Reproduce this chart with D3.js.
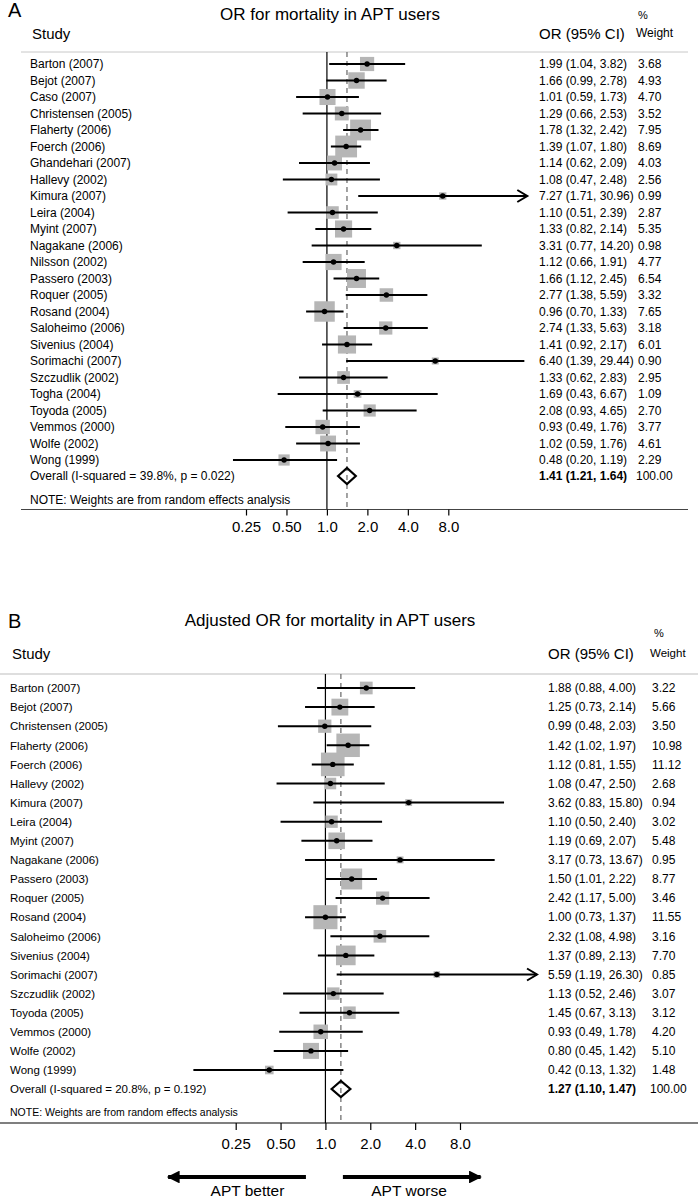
<!DOCTYPE html>
<html><head><meta charset="utf-8">
<script src="https://cdn.jsdelivr.net/npm/d3@7"></script>
<style>
html,body{margin:0;padding:0;background:#fff;}
text{font-family:"Liberation Sans",Arial,sans-serif;fill:#000;}
</style></head>
<body>
<svg id="chart" width="698" height="1200"></svg>
<script>
// ---------- Panel A data ----------
const studiesA = ["Barton (2007)","Bejot (2007)","Caso (2007)","Christensen (2005)","Flaherty (2006)","Foerch (2006)","Ghandehari (2007)","Hallevy (2002)","Kimura (2007)","Leira (2004)","Myint (2007)","Nagakane (2006)","Nilsson (2002)","Passero (2003)","Roquer (2005)","Rosand (2004)","Saloheimo (2006)","Sivenius (2004)","Sorimachi (2007)","Szczudlik (2002)","Togha (2004)","Toyoda (2005)","Vemmos (2000)","Wolfe (2002)","Wong (1999)"];
const orA     = [1.99,1.66,1.01,1.29,1.78,1.39,1.14,1.08,7.27,1.10,1.33,3.31,1.12,1.66,2.77,0.96,2.74,1.41,6.40,1.33,1.69,2.08,0.93,1.02,0.48];
const lowA    = [1.04,0.99,0.59,0.66,1.32,1.07,0.62,0.47,1.71,0.51,0.82,0.77,0.66,1.12,1.38,0.70,1.33,0.92,1.39,0.62,0.43,0.93,0.49,0.59,0.20];
const highA   = [3.82,2.78,1.73,2.53,2.42,1.80,2.09,2.48,30.96,2.39,2.14,14.20,1.91,2.45,5.59,1.33,5.63,2.17,29.44,2.83,6.67,4.65,1.76,1.76,1.19];
const weightA = [3.68,4.93,4.70,3.52,7.95,8.69,4.03,2.56,0.99,2.87,5.35,0.98,4.77,6.54,3.32,7.65,3.18,6.01,0.90,2.95,1.09,2.70,3.77,4.61,2.29];
const overallA = [1.41,1.21,1.64];
const overallLabelA = "Overall  (I-squared = 39.8%, p = 0.022)";
const arrowStudiesA = ["Kimura (2007)"];

// ---------- Panel B data ----------
const studiesB = ["Barton (2007)","Bejot (2007)","Christensen (2005)","Flaherty (2006)","Foerch (2006)","Hallevy (2002)","Kimura (2007)","Leira (2004)","Myint (2007)","Nagakane (2006)","Passero (2003)","Roquer (2005)","Rosand (2004)","Saloheimo (2006)","Sivenius (2004)","Sorimachi (2007)","Szczudlik (2002)","Toyoda (2005)","Vemmos (2000)","Wolfe (2002)","Wong (1999)"];
const orB     = [1.88,1.25,0.99,1.42,1.12,1.08,3.62,1.10,1.19,3.17,1.50,2.42,1.00,2.32,1.37,5.59,1.13,1.45,0.93,0.80,0.42];
const lowB    = [0.88,0.73,0.48,1.02,0.81,0.47,0.83,0.50,0.69,0.73,1.01,1.17,0.73,1.08,0.89,1.19,0.52,0.67,0.49,0.45,0.13];
const highB   = [4.00,2.14,2.03,1.97,1.55,2.50,15.80,2.40,2.07,13.67,2.22,5.00,1.37,4.98,2.13,26.30,2.46,3.13,1.78,1.42,1.32];
const weightB = [3.22,5.66,3.50,10.98,11.12,2.68,0.94,3.02,5.48,0.95,8.77,3.46,11.55,3.16,7.70,0.85,3.07,3.12,4.20,5.10,1.48];
const overallB = [1.27,1.10,1.47];
const overallLabelB = "Overall  (I-squared = 20.8%, p = 0.192)";
const arrowStudiesB = ["Sorimachi (2007)"];

// ---------- axis ticks ----------
const tickValues = [0.25,0.5,1,2,4,8];
const tickLabels = ["0.25","0.50","1.0","2.0","4.0","8.0"];
const noteText = "NOTE: Weights are from random effects analysis";

// ---------- direction arrows (panel B scale, OR units) ----------
const arrowLabels = ["APT better","APT worse"];
const arrowStart  = [0.74, 1.31];
const arrowTip    = [0.088, 11.0];
const arrowLabelAt = [0.30, 3.64];

const svg = d3.select("#chart");
const f2 = d3.format(".2f");
const FONT = '"Liberation Sans",Arial,sans-serif';

function panel(cfg){
  const g = svg.append("g");
  const n = cfg.studies.length;
  const x = d3.scaleLog().domain([0.25,8]).range(cfg.xRange);
  const y = d3.scaleLinear().domain([0,n-1]).range(cfg.yRows);
  const size = d3.scaleSqrt().domain([0,10]).range([0,cfg.boxAt10]);

  g.append("text").attr("x",cfg.letterX).attr("y",cfg.letterY).attr("font-size",20).text(cfg.letter);
  g.append("text").attr("x",330).attr("y",cfg.titleY).attr("text-anchor","middle").attr("font-size",17).text(cfg.title);
  g.append("text").attr("x",cfg.studyX+2).attr("y",cfg.headY).attr("font-size",15).text("Study");
  g.append("text").attr("x",cfg.ciX).attr("y",cfg.headY).attr("font-size",15).text("OR (95% CI)");
  g.append("text").attr("x",cfg.pctX).attr("y",cfg.pctY).attr("font-size",11).attr("fill","#333").text("%");
  g.append("text").attr("x",cfg.wX - 2).attr("y",cfg.weightY).attr("font-size",cfg.weightHeadSize).attr("fill","#333").text("Weight");

  g.append("line").attr("x1",cfg.sepX[0]).attr("x2",cfg.sepX[1]).attr("y1",cfg.sepY).attr("y2",cfg.sepY)
    .attr("stroke",cfg.sepColor).attr("stroke-width",cfg.sepW);

  g.append("line").attr("x1",x(1)).attr("x2",x(1)).attr("y1",cfg.sepY).attr("y2",cfg.axisY)
    .attr("stroke","#000").attr("stroke-width",1.2);
  g.append("line").attr("x1",x(cfg.overall[0])).attr("x2",x(cfg.overall[0])).attr("y1",cfg.sepY).attr("y2",cfg.axisY)
    .attr("stroke","#666").attr("stroke-width",1.2).attr("stroke-dasharray","5,4");

  const idx = d3.range(n);
  g.selectAll("rect.box").data(idx).enter().append("rect")
    .attr("x",i=>x(cfg.or[i]) - size(cfg.weight[i])/2)
    .attr("y",i=>y(i) - size(cfg.weight[i])/2)
    .attr("width",i=>size(cfg.weight[i]))
    .attr("height",i=>size(cfg.weight[i]))
    .attr("fill","#b6b6b6");
  g.selectAll("line.ci").data(idx).enter().append("line")
    .attr("x1",i=>x(cfg.low[i])).attr("x2",i=>x(cfg.high[i]))
    .attr("y1",i=>y(i)).attr("y2",i=>y(i))
    .attr("stroke","#000").attr("stroke-width",2);
  g.selectAll("path.arr").data(idx.filter(i=>cfg.arrows.includes(cfg.studies[i]))).enter().append("path")
    .attr("d",i=>{const xe=x(cfg.high[i]), yy=y(i); return `M${xe-10},${yy-6}L${xe},${yy}L${xe-10},${yy+6}`;})
    .attr("fill","none").attr("stroke","#000").attr("stroke-width",2);
  g.selectAll("circle.dot").data(idx).enter().append("circle")
    .attr("cx",i=>x(cfg.or[i])).attr("cy",i=>y(i)).attr("r",2.7).attr("fill","#000");

  g.selectAll("text.st").data(idx).enter().append("text")
    .attr("x",cfg.studyX).attr("y",i=>y(i)+4.2).attr("font-size",cfg.rowFont).attr("fill","#111")
    .text(i=>cfg.studies[i]);
  g.selectAll("text.ci").data(idx).enter().append("text")
    .attr("x",cfg.ciX).attr("y",i=>y(i)+4.2).attr("font-size",12).attr("fill","#111")
    .text(i=>`${f2(cfg.or[i])} (${f2(cfg.low[i])}, ${f2(cfg.high[i])})`);
  g.selectAll("text.w").data(idx).enter().append("text")
    .attr("x",cfg.wX).attr("y",i=>y(i)+4.2).attr("font-size",12).attr("fill","#111")
    .text(i=>f2(cfg.weight[i]));

  const oy = cfg.overallY, o = cfg.overall;
  g.append("path")
    .attr("d",`M${x(o[1])},${oy}L${x(o[0])},${oy-8}L${x(o[2])},${oy}L${x(o[0])},${oy+8}Z`)
    .attr("fill","none").attr("stroke","#000").attr("stroke-width",2.2);
  g.append("text").attr("x",cfg.studyX).attr("y",oy+4.2).attr("font-size",cfg.rowFont).attr("fill","#111").text(cfg.overallLabel);
  g.append("text").attr("x",cfg.ciX).attr("y",oy+4.2).attr("font-size",12).attr("font-weight","bold")
    .text(`${f2(o[0])} (${f2(o[1])}, ${f2(o[2])})`);
  g.append("text").attr("x",cfg.wX-2).attr("y",oy+4.2).attr("font-size",12).text("100.00");
  g.append("text").attr("x",cfg.studyX).attr("y",cfg.noteY).attr("font-size",cfg.noteFont).attr("fill","#111").text(noteText);

  g.append("line").attr("x1",cfg.axX[0]).attr("x2",cfg.axX[1]).attr("y1",cfg.axisY).attr("y2",cfg.axisY)
    .attr("stroke",cfg.axColor).attr("stroke-width",1.2);
  const ax = g.append("g").attr("transform",`translate(0,${cfg.axisY})`)
    .call(d3.axisBottom(x).tickValues(tickValues).tickFormat((d,i)=>tickLabels[i]).tickSize(cfg.tickSize).tickPadding(cfg.tickPad));
  ax.select(".domain").remove();
  ax.selectAll("text").attr("font-size",15).attr("font-family",FONT).attr("fill","#000");
  ax.selectAll("line").attr("stroke","#000").attr("stroke-width",1.2);
  return x;
}

panel({
  letter:"A", letterX:8, letterY:17, title:"OR for mortality in APT users", titleY:20,
  studies:studiesA, or:orA, low:lowA, high:highA, weight:weightA, overall:overallA,
  overallLabel:overallLabelA, arrows:arrowStudiesA,
  xRange:[246,448.3], yRows:[64,460], boxAt10:23.4,
  studyX:30, ciX:539, wX:638, headY:38.5, pctY:19, weightY:37, pctX:638, weightHeadSize:12,
  sepX:[21,688], sepY:52, sepColor:"#c8c8c8", sepW:1,
  rowFont:12, overallY:476, noteY:504, noteFont:12,
  axisY:509.5, axX:[21,688], axColor:"#444", tickSize:6, tickPad:6
});

const xB = panel({
  letter:"B", letterX:8, letterY:628, title:"Adjusted OR for mortality in APT users", titleY:626,
  studies:studiesB, or:orB, low:lowB, high:highB, weight:weightB, overall:overallB,
  overallLabel:overallLabelB, arrows:arrowStudiesB,
  xRange:[235.7,460], yRows:[688,1070], boxAt10:22.4,
  studyX:10, ciX:548, wX:652, headY:659, pctY:637, weightY:657, pctX:654, weightHeadSize:11.5,
  sepX:[0,698], sepY:674, sepColor:"#dedede", sepW:2,
  rowFont:11.5, overallY:1089, noteY:1116, noteFont:10.5,
  axisY:1123, axX:[0,698], axColor:"#000", tickSize:7, tickPad:8
});

svg.append("defs").append("marker").attr("id","head").attr("viewBox","0 0 10 10")
  .attr("refX",9).attr("refY",5).attr("markerWidth",3.6).attr("markerHeight",3.2).attr("orient","auto")
  .attr("markerUnits","strokeWidth")
  .append("path").attr("d","M0,0L10,5L0,10Z").attr("fill","#000");
arrowLabels.forEach((lab,i)=>{
  svg.append("line").attr("x1",xB(arrowStart[i])).attr("x2",xB(arrowTip[i])).attr("y1",1177).attr("y2",1177)
    .attr("stroke","#000").attr("stroke-width",4).attr("marker-end","url(#head)");
  svg.append("text").attr("x",xB(arrowLabelAt[i])).attr("y",1196).attr("text-anchor","middle")
    .attr("font-size",15.5).text(lab);
});
</script>
</body></html>
